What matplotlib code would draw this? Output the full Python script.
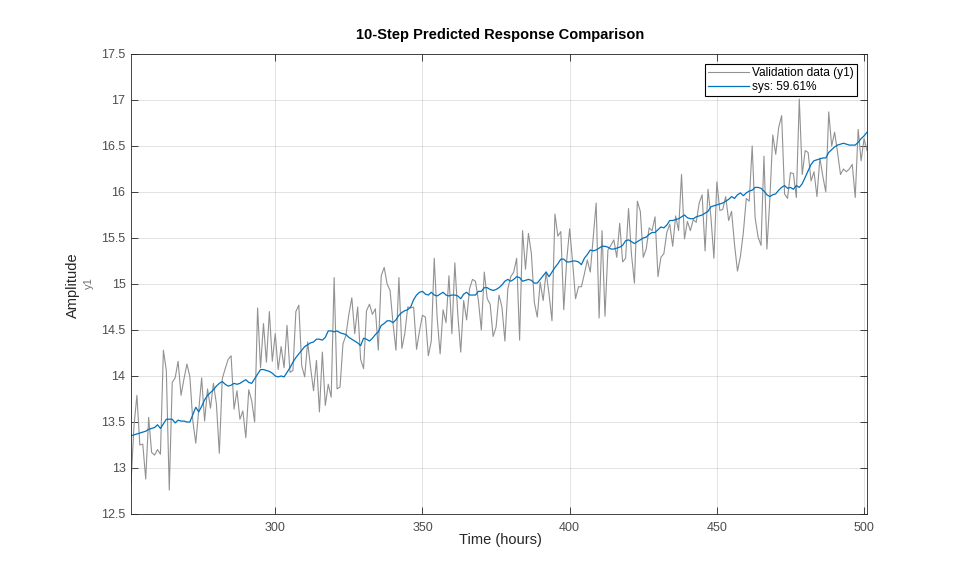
import numpy as np
import matplotlib
matplotlib.use("Agg")
import matplotlib.pyplot as plt
from matplotlib.ticker import FormatStrFormatter, MultipleLocator

plt.rcParams['font.family'] = ['Liberation Sans', 'DejaVu Sans']

# Time axis (hours)
t_start = 251
t_end = 501

# Validation data (y1)
y_valid = [
    # 251-294
    12.83, 13.45, 13.79, 13.25, 13.26, 12.88, 13.55, 13.17, 13.14, 13.20,
    13.15, 14.28, 14.06, 12.76, 13.93, 13.98, 14.16, 13.79, 13.97, 14.13,
    13.99, 13.51, 13.27, 13.62, 13.98, 13.51, 13.86, 13.65, 13.92, 13.70,
    13.16, 13.97, 14.08, 14.18, 14.22, 13.64, 13.84, 13.53, 13.62, 13.33,
    13.85, 13.73, 13.50, 14.74,
    # 295-335
    14.09, 14.57, 14.15, 14.70, 14.16, 14.46, 14.07, 14.32, 14.09, 14.55,
    14.04, 14.06, 14.70, 14.77, 14.11, 13.99, 14.37, 14.09, 13.84, 14.17,
    13.61, 14.26, 13.68, 13.91, 13.77, 15.07, 13.86, 13.88, 14.35, 14.44,
    14.67, 14.85, 14.46, 14.75, 14.18, 14.08, 14.71, 14.78, 14.67, 14.73,
    14.28,
    # 336-378
    15.09, 15.18, 15.00, 14.93, 14.57, 14.28, 15.07, 14.30, 14.46, 14.75,
    14.74, 14.75, 14.29, 14.49, 14.66, 14.64, 14.22, 14.38, 15.28, 14.63,
    14.24, 14.72, 14.58, 15.09, 14.46, 15.23, 14.67, 14.26, 14.82, 14.61,
    14.95, 15.05, 15.03, 14.82, 14.50, 15.13, 14.84, 14.78, 14.43, 14.53,
    14.88, 14.75, 14.38,
    # 379-420
    14.95, 15.08, 15.13, 15.28, 14.39, 15.58, 15.16, 15.55, 15.33, 14.80,
    14.64, 15.02, 14.82, 15.13, 14.89, 14.60, 15.76, 15.52, 15.57, 14.72,
    15.26, 15.60, 15.24, 14.84, 14.97, 14.97, 15.11, 15.26, 15.13, 15.51,
    15.88, 14.63, 15.58, 14.65, 15.37, 15.42, 15.48, 15.29, 15.66, 15.24,
    15.28, 15.82,
    # 421-462
    15.32, 15.01, 15.90, 15.79, 15.29, 15.38, 15.61, 15.58, 15.73, 15.08,
    15.29, 15.33, 15.56, 15.65, 15.41, 15.74, 15.58, 16.19, 15.49, 15.68,
    15.58, 15.70, 15.67, 15.88, 15.97, 15.36, 16.03, 15.72, 15.28, 16.11,
    15.80, 15.81, 15.95, 15.69, 15.79, 15.43, 15.14, 15.30, 15.56, 15.93,
    15.90, 16.50,
    # 463-501
    15.72, 15.51, 15.42, 16.39, 15.38, 15.92, 16.62, 16.41, 16.70, 16.83,
    15.98, 15.93, 16.21, 16.20, 15.94, 17.01, 16.19, 16.45, 16.43, 16.12,
    16.22, 15.95, 16.37, 16.17, 16.00, 16.87, 16.50, 16.65, 16.43, 16.19,
    16.25, 16.22, 16.25, 16.30, 15.94, 16.68, 16.34, 16.58, 16.45,
]

# 10-step predicted response of sys
y_sys = [
    # 251-294
    13.35, 13.36, 13.37, 13.38, 13.39, 13.40, 13.42, 13.43, 13.44, 13.47,
    13.43, 13.48, 13.53, 13.53, 13.53, 13.49, 13.52, 13.51, 13.51, 13.50,
    13.50, 13.58, 13.66, 13.61, 13.67, 13.74, 13.79, 13.82, 13.85, 13.89,
    13.92, 13.94, 13.91, 13.89, 13.90, 13.92, 13.91, 13.92, 13.94, 13.96,
    13.93, 13.92, 13.97, 14.02,
    # 295-335
    14.07, 14.07, 14.06, 14.05, 14.03, 14.00, 13.99, 14.00, 13.99, 14.04,
    14.09, 14.15, 14.20, 14.24, 14.28, 14.32, 14.34, 14.36, 14.37, 14.40,
    14.40, 14.39, 14.42, 14.49, 14.49, 14.48, 14.49, 14.47, 14.46, 14.45,
    14.42, 14.40, 14.38, 14.36, 14.33, 14.41, 14.40, 14.38, 14.41, 14.45,
    14.48,
    # 336-378
    14.55, 14.57, 14.60, 14.60, 14.58, 14.61, 14.66, 14.69, 14.71, 14.72,
    14.75, 14.83, 14.88, 14.91, 14.92, 14.89, 14.88, 14.91, 14.88, 14.87,
    14.89, 14.91, 14.88, 14.87, 14.88, 14.88, 14.87, 14.84, 14.89, 14.91,
    14.88, 14.88, 14.88, 14.92, 14.92, 14.96, 14.96, 14.94, 14.93, 14.94,
    14.96, 14.99, 15.03,
    # 379-420
    15.05, 15.03, 15.05, 15.08, 15.07, 15.03, 15.04, 15.05, 15.04, 15.01,
    15.01, 15.05, 15.09, 15.13, 15.08, 15.13, 15.18, 15.22, 15.27, 15.27,
    15.24, 15.24, 15.25, 15.25, 15.24, 15.21, 15.28, 15.32, 15.37, 15.36,
    15.37, 15.39, 15.41, 15.41, 15.40, 15.38, 15.38, 15.39, 15.40, 15.42,
    15.47, 15.48,
    # 421-462
    15.46, 15.44, 15.46, 15.48, 15.50, 15.51, 15.54, 15.56, 15.56, 15.59,
    15.62, 15.61, 15.64, 15.69, 15.69, 15.70, 15.71, 15.73, 15.75, 15.72,
    15.71, 15.71, 15.73, 15.74, 15.75, 15.77, 15.79, 15.84, 15.85, 15.86,
    15.87, 15.88, 15.90, 15.92, 15.95, 15.93, 15.97, 15.99, 15.96, 15.99,
    16.01, 16.02,
    # 463-501
    16.05, 16.05, 16.04, 16.01, 15.97, 15.95, 15.97, 15.98, 16.02, 16.05,
    16.07, 16.04, 16.05, 16.03, 16.07, 16.05, 16.09, 16.16, 16.23, 16.30,
    16.34, 16.35, 16.36, 16.37, 16.37, 16.43, 16.46, 16.49, 16.51, 16.52,
    16.53, 16.52, 16.51, 16.51, 16.51, 16.54, 16.58, 16.61, 16.65,
]

labels = ['Validation data (y1)', 'sys: 59.61%']
fit_title = '10-Step Predicted Response Comparison'

t = np.arange(t_start, t_end + 1)

axis_col = '#262626'

fig = plt.figure(figsize=(9.59, 5.77), dpi=100)
ax = fig.add_axes([131 / 959, 1 - 514 / 577, 736 / 959, 460 / 577])

ax.plot(t, y_valid, color='#929292', lw=0.8, label=labels[0])
ax.plot(t, y_sys, color='#0072BD', lw=0.9, label=labels[1])

ax.set_xlim(t_start, t_end)
ax.set_ylim(12.5, 17.5)
ax.xaxis.set_major_locator(MultipleLocator(50))
ax.yaxis.set_major_locator(MultipleLocator(0.5))
ax.yaxis.set_major_formatter(FormatStrFormatter('%g'))

ax.grid(True, color=axis_col, alpha=0.15, lw=0.6)
ax.set_axisbelow(True)
for s in ax.spines.values():
    s.set_color(axis_col)
    s.set_linewidth(0.6)
ax.tick_params(direction='in', top=True, right=True, length=5, width=0.6,
               color=axis_col, labelcolor='#4d4d4d', labelsize=9)
ax.tick_params(axis='x', pad=6)
ax.tick_params(axis='y', pad=4)

leg = ax.legend(loc='upper right', bbox_to_anchor=(1 - 10 / 736, 1 - 10 / 460),
                fontsize=8.6, frameon=True, fancybox=False, edgecolor='black',
                framealpha=1, borderpad=0.25, labelspacing=0.15,
                handlelength=3.4, handletextpad=0.3, borderaxespad=0)
leg.get_frame().set_linewidth(0.8)

fig.text(500 / 959, 1 - 35 / 577, fit_title, ha='center', va='center',
         fontsize=10.5, fontweight='bold', color='#000000')
fig.text(500 / 959, 1 - 540 / 577, 'Time (hours)', ha='center', va='center',
         fontsize=10.5, color='#262626')
fig.text(73 / 959, 1 - 285 / 577, 'Amplitude', ha='center', va='center',
         rotation=90, fontsize=10.5, color='#262626')
fig.text(89 / 959, 1 - 283 / 577, 'y1', ha='center', va='center',
         rotation=90, fontsize=8, color='#6e6e6e')

fig.savefig('out.png', dpi=100)
